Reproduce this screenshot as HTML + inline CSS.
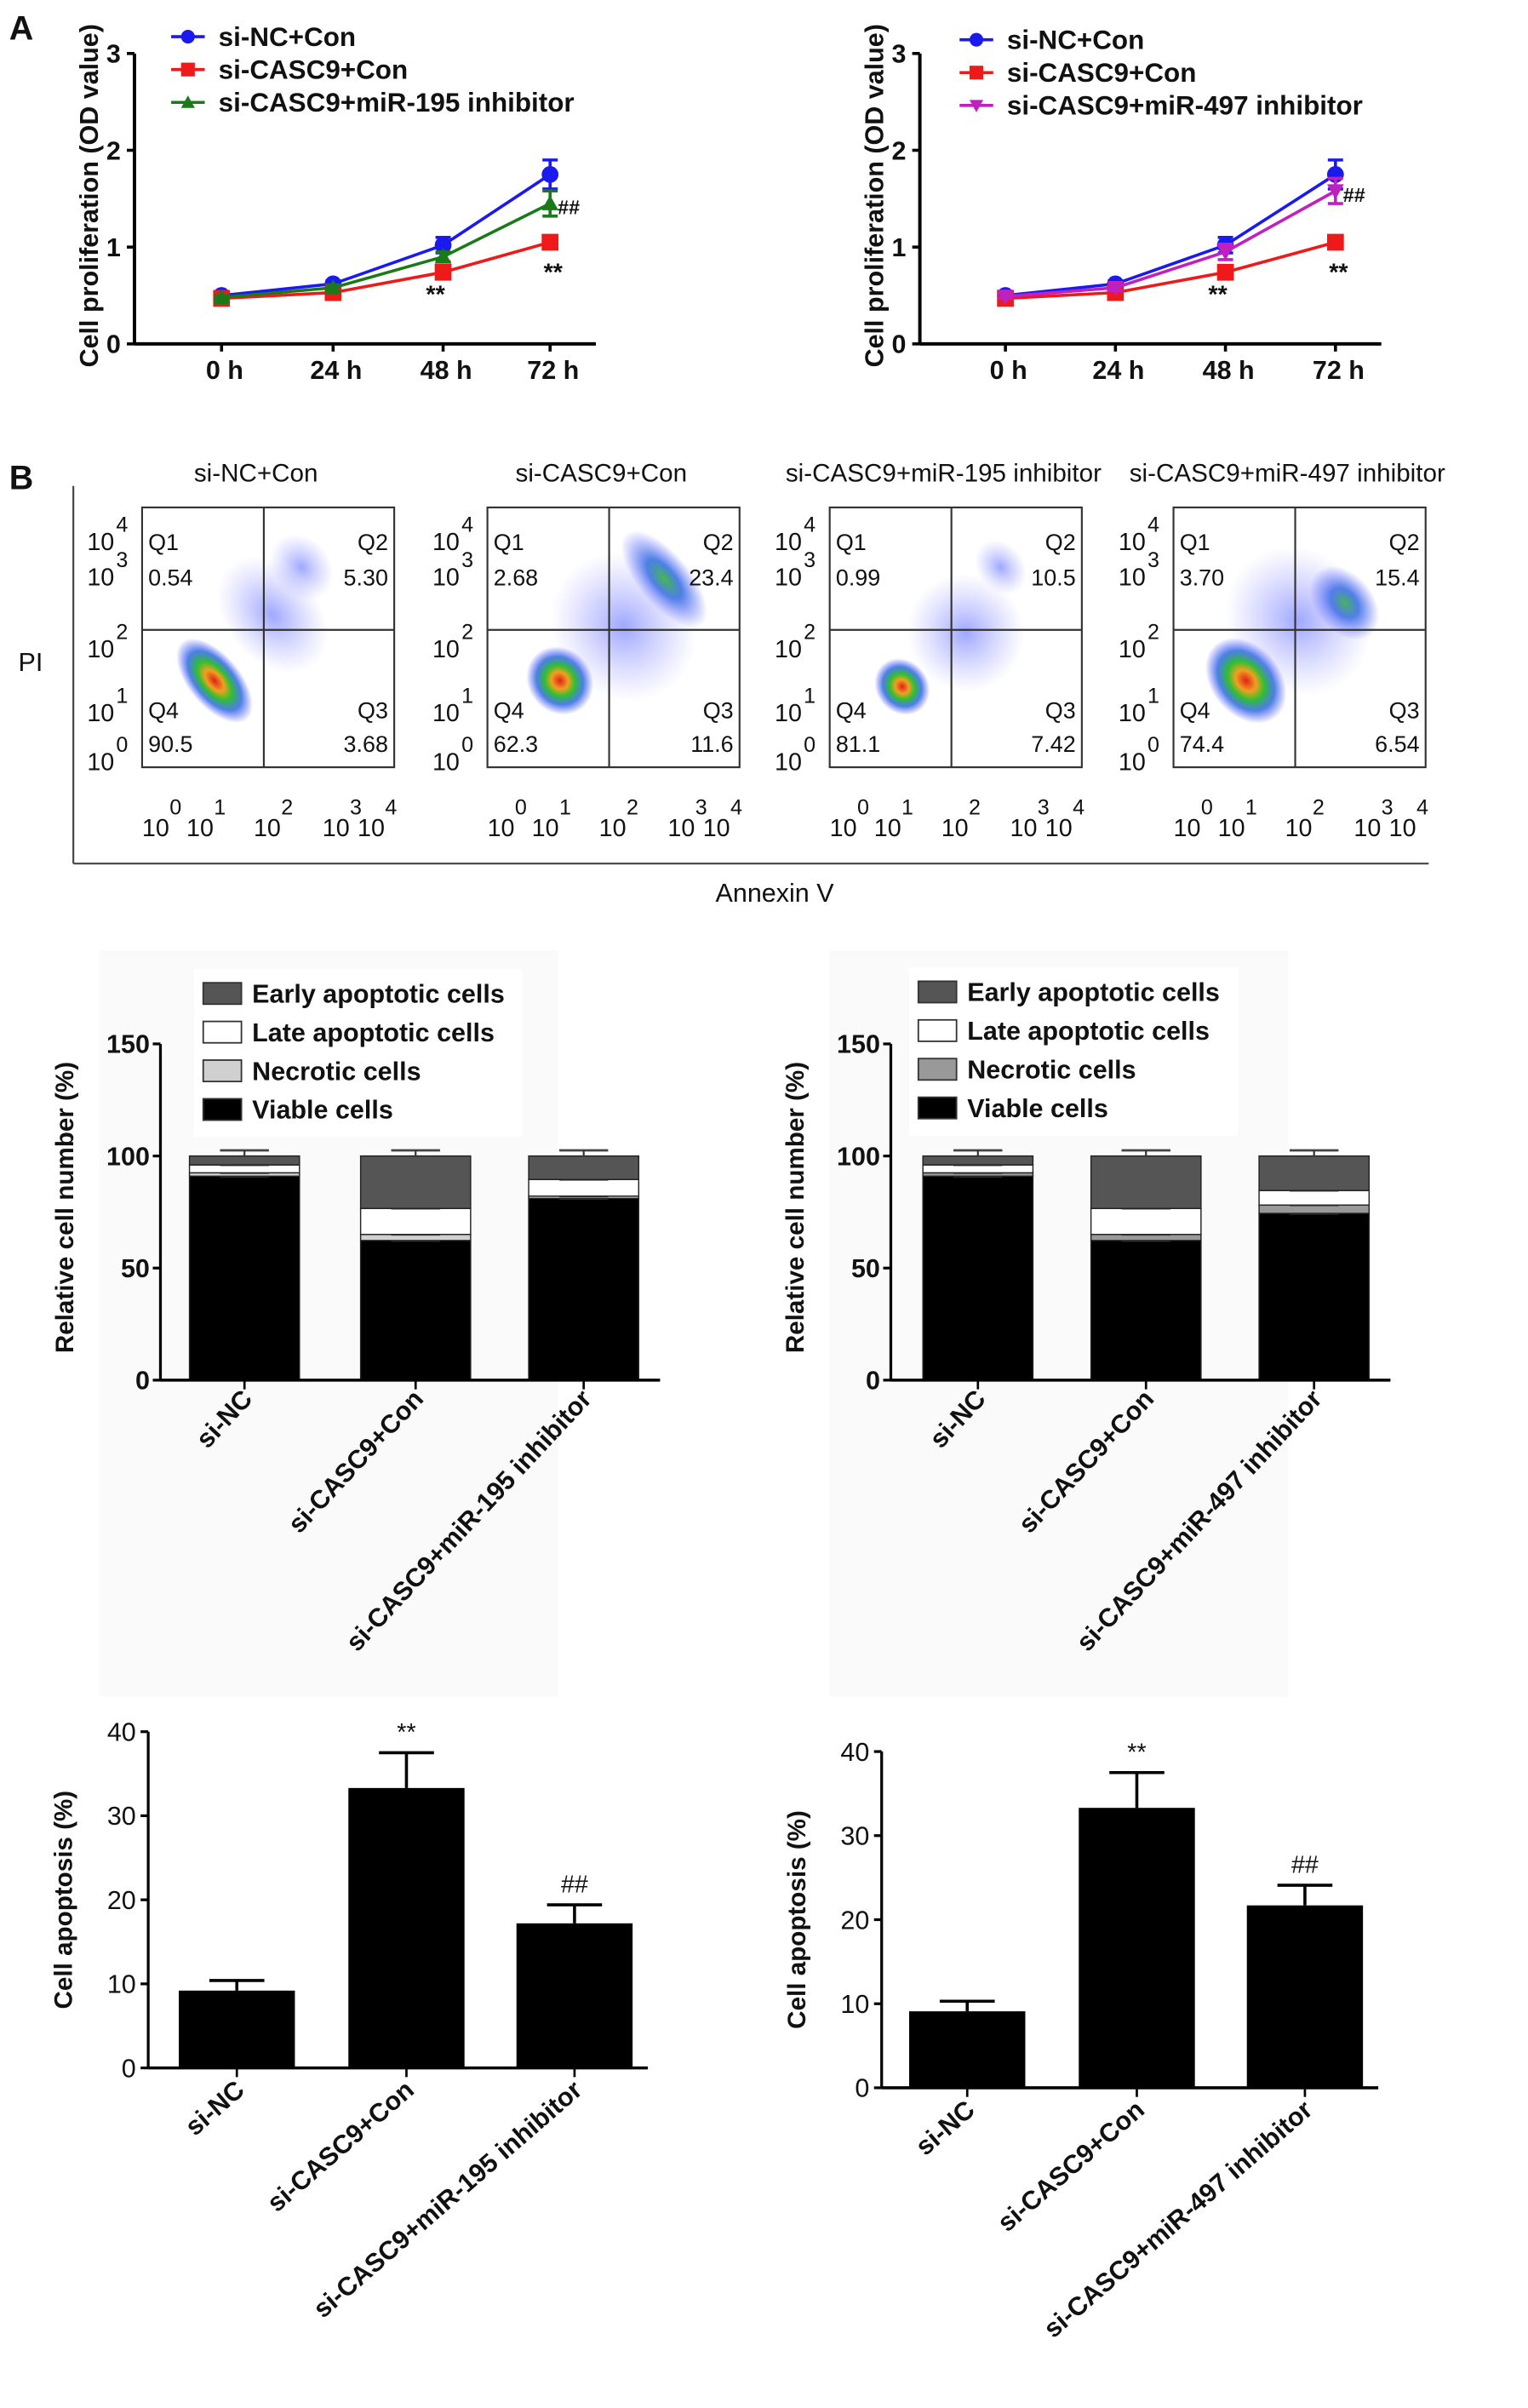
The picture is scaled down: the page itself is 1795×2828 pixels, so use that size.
<!DOCTYPE html>
<html><head><meta charset="utf-8"><style>
html,body{margin:0;padding:0;background:#fff}
svg{display:block;font-family:"Liberation Sans",Arial,sans-serif}
</style></head><body>
<svg id="fig" width="1795" height="2828" viewBox="0 0 1000 1575.5" preserveAspectRatio="none" xmlns="http://www.w3.org/2000/svg">
<defs>
<radialGradient id="dens"><stop offset="0" stop-color="#e0201a"/><stop offset="0.25" stop-color="#f0a020"/><stop offset="0.45" stop-color="#30c030"/><stop offset="0.7" stop-color="#2060e0" stop-opacity="0.8"/><stop offset="1" stop-color="#4040ff" stop-opacity="0"/></radialGradient>
<radialGradient id="densB"><stop offset="0" stop-color="#40c040"/><stop offset="0.4" stop-color="#2060e0" stop-opacity="0.8"/><stop offset="1" stop-color="#5050ff" stop-opacity="0"/></radialGradient>
<radialGradient id="densC"><stop offset="0" stop-color="#5060ff" stop-opacity="0.55"/><stop offset="1" stop-color="#8080ff" stop-opacity="0"/></radialGradient>
</defs>
</svg>
<script>
// ---------- Data ----------
const timeLabels = ["0 h","24 h","48 h","72 h"];
const odNC = [0.50, 0.62, 1.02, 1.75];
const odNCErr = [0.03, 0.03, 0.08, 0.15];
const odCASC9 = [0.47, 0.53, 0.74, 1.05];
const odCASC9Err = [0.02, 0.03, 0.04, 0.06];
const odMiR195 = [0.48, 0.58, 0.90, 1.45];
const odMiR195Err = [0.02, 0.03, 0.05, 0.13];
const odMiR497 = [0.49, 0.58, 0.95, 1.58];
const odMiR497Err = [0.02, 0.03, 0.08, 0.13];
const odTicks = [0,1,2,3];

const flowTitles = ["si-NC+Con","si-CASC9+Con","si-CASC9+miR-195 inhibitor","si-CASC9+miR-497 inhibitor"];
const flowQ1 = ["0.54","2.68","0.99","3.70"];
const flowQ2 = ["5.30","23.4","10.5","15.4"];
const flowQ3 = ["3.68","11.6","7.42","6.54"];
const flowQ4 = ["90.5","62.3","81.1","74.4"];
// density clusters per plot: [logX, logY, spreadX, spreadY, kind]
const flowClusters = [
 [[0.9,1.1,0.45,0.85,0],[1.9,2.2,0.8,1.1,2],[2.4,3.0,0.5,0.6,2]],
 [[0.9,1.1,0.55,0.6,0],[2.7,2.8,0.45,1.0,1],[2.0,2.0,1.2,1.3,2]],
 [[0.9,1.0,0.45,0.5,0],[2.0,1.9,1.0,1.0,2],[2.6,3.0,0.4,0.5,2]],
 [[0.9,1.1,0.6,0.8,0],[2.6,2.4,0.5,0.7,1],[1.8,2.1,1.2,1.3,2]]
];

const stackCats1 = ["si-NC","si-CASC9+Con","si-CASC9+miR-195 inhibitor"];
const stackCats2 = ["si-NC","si-CASC9+Con","si-CASC9+miR-497 inhibitor"];
const viable1 = [91, 62.3, 81.1];
const necrotic1 = [1.5, 2.7, 1.0];
const late1 = [3.5, 11.6, 7.4];
const early1 = [4.0, 23.4, 10.5];
const viable2 = [91, 62.3, 74.4];
const necrotic2 = [1.5, 2.7, 3.7];
const late2 = [3.5, 11.6, 6.5];
const early2 = [4.0, 23.4, 15.4];
const stackTicks = [0,50,100,150];

const apop1 = [9.2, 33.3, 17.2];
const apop1Err = [1.2, 4.2, 2.2];
const apop2 = [9.1, 33.3, 21.7];
const apop2Err = [1.2, 4.2, 2.4];
const apopTicks = [0,10,20,30,40];
const apopMarks = ["","**","##"];

// ---------- Helpers ----------
const svg = document.getElementById('fig');
const NS = "http://www.w3.org/2000/svg";
function el(tag, attrs, parent, text){
  const e = document.createElementNS(NS, tag);
  for (const k in attrs) e.setAttribute(k, attrs[k]);
  if (text !== undefined) e.textContent = text;
  (parent||svg).appendChild(e);
  return e;
}
function grp(name){
  const g = el('g', {});
  
  
  return g;
}
function txt(g, x, y, s, size, opts){
  const o = Object.assign({x:x, y:y, 'font-size':size, fill:'#111'}, opts||{});
  return el('text', o, g, s);
}

let gl = grp('panel-label-a'); txt(gl, 6, 26, 'A', 22, {'font-weight':'bold'});
gl = grp('panel-label-b'); txt(gl, 6, 320, 'B', 22, {'font-weight':'bold'});

// ---------- Line charts ----------
function marker(g, type, x, y, c, r){
  if (type==='circle') el('circle',{cx:x,cy:y,r:r,fill:c},g);
  else if (type==='square') el('rect',{x:x-r,y:y-r,width:2*r,height:2*r,fill:c},g);
  else if (type==='tri') el('polygon',{points:`${x},${y-r} ${x+r},${y+r*0.8} ${x-r},${y+r*0.8}`,fill:c},g);
  else el('polygon',{points:`${x},${y+r} ${x+r},${y-r*0.8} ${x-r},${y-r*0.8}`,fill:c},g);
}
function lineChart(name, ax, xs, series, legendX, legendY){
  const g = grp(name);
  const y0 = 225, yTop = 35, xEnd = ax + 302;
  const yS = v => y0 - (v/3)*(y0-yTop);
  const xS = i => xs[i];
  el('line',{x1:ax,y1:yTop,x2:ax,y2:y0,stroke:'#000','stroke-width':2.2},g);
  el('line',{x1:ax,y1:y0,x2:xEnd,y2:y0,stroke:'#000','stroke-width':2.2},g);
  odTicks.forEach(t=>{
    el('line',{x1:ax-5,y1:yS(t),x2:ax,y2:yS(t),stroke:'#000','stroke-width':2},g);
    txt(g, ax-9, yS(t)+6, String(t), 17, {'text-anchor':'end','font-weight':'bold'});
  });
  timeLabels.forEach((l,i)=>{
    el('line',{x1:xS(i),y1:y0,x2:xS(i),y2:y0+5,stroke:'#000','stroke-width':2},g);
    txt(g, xS(i)+2, 248, l, 17, {'text-anchor':'middle','font-weight':'bold'});
  });
  const yl = txt(g, 0, 0, 'Cell proliferation (OD value)', 17, {'font-weight':'bold','text-anchor':'middle',transform:`translate(${ax-24},128) rotate(-90)`});
  
  series.forEach((s,si)=>{
    const sg = el('g',{},g);
    
    
    const pts = s.vals.map((v,i)=>xS(i)+','+yS(v)).join(' ');
    el('polyline',{points:pts,fill:'none',stroke:s.color,'stroke-width':2},sg);
    s.vals.forEach((v,i)=>{
      const e = s.err[i];
      el('line',{x1:xS(i),y1:yS(v+e),x2:xS(i),y2:yS(v-e),stroke:s.color,'stroke-width':2},sg);
      el('line',{x1:xS(i)-5,y1:yS(v+e),x2:xS(i)+5,y2:yS(v+e),stroke:s.color,'stroke-width':2},sg);
      el('line',{x1:xS(i)-5,y1:yS(v-e),x2:xS(i)+5,y2:yS(v-e),stroke:s.color,'stroke-width':2},sg);
      marker(sg, s.marker, xS(i), yS(v), s.color, 5.5);
    });
    const ly = legendY + si*21.5;
    el('line',{x1:legendX,y1:ly,x2:legendX+22,y2:ly,stroke:s.color,'stroke-width':2},g);
    marker(g, s.marker, legendX+11, ly, s.color, 4.5);
    txt(g, legendX+31, ly+6, s.label, 17.5, {'font-weight':'bold'});
  });
  txt(g, xS(2)-5, yS(odCASC9[2])+20, '**', 16, {'text-anchor':'middle','font-weight':'bold'});
  txt(g, xS(3)+2, yS(odCASC9[3])+25, '**', 16, {'text-anchor':'middle','font-weight':'bold'});
  txt(g, xS(3)+5, yS(series[2].vals[3])+7, '##', 13, {'font-weight':'bold'});
}
lineChart('line-chart-mir195', 88, [145,218,290,360], [
  {key:'si-nc-con',label:'si-NC+Con',vals:odNC,err:odNCErr,color:'#1a1aee',marker:'circle'},
  {key:'si-casc9-con',label:'si-CASC9+Con',vals:odCASC9,err:odCASC9Err,color:'#ee1a1a',marker:'square'},
  {key:'si-casc9-mir195',label:'si-CASC9+miR-195 inhibitor',vals:odMiR195,err:odMiR195Err,color:'#1a7a1a',marker:'tri'}
], 112, 24);
lineChart('line-chart-mir497', 602, [658,730,802,874], [
  {key:'si-nc-con',label:'si-NC+Con',vals:odNC,err:odNCErr,color:'#1a1aee',marker:'circle'},
  {key:'si-casc9-con',label:'si-CASC9+Con',vals:odCASC9,err:odCASC9Err,color:'#ee1a1a',marker:'square'},
  {key:'si-casc9-mir497',label:'si-CASC9+miR-497 inhibitor',vals:odMiR497,err:odMiR497Err,color:'#c020c0',marker:'tridown'}
], 628, 26);

// ---------- Flow cytometry ----------
const fg = grp('flow-cytometry-panel');
el('line',{x1:48,y1:318,x2:48,y2:565,stroke:'#444','stroke-width':1.2},fg);
el('line',{x1:48,y1:565,x2:935,y2:565,stroke:'#444','stroke-width':1.2},fg);
let t = txt(fg, 507, 590, 'Annexin V', 17, {'text-anchor':'middle'}); 
t = txt(fg, 12, 439, 'PI', 17, {}); 
const flowBoxX = [93, 319, 543, 768];
flowTitles.forEach((title,i)=>{
  const g = grp('flow-plot-'+(i+1));
  const x0 = flowBoxX[i], w = 165, yT = 332, yB = 502;
  const lx = v => x0 + (v+0.35)/4.35*w;
  const ly = v => yB - (v+0.35)/4.35*(yB-yT);
  txt(g, x0+w/2-8, 315, title, 16.5, {'text-anchor':'middle'});
  const cl = el('g',{},g);
  cl.setAttribute('clip-path','url(#clip'+i+')');
  const cp = el('clipPath',{id:'clip'+i},svg.querySelector('defs'));
  el('rect',{x:x0,y:yT,width:w,height:yB-yT},cp);
  flowClusters[i].forEach(c=>{
    const fill = c[4]===0?'url(#dens)':(c[4]===1?'url(#densB)':'url(#densC)');
    el('ellipse',{cx:lx(c[0]),cy:ly(c[1]),rx:c[2]/4.35*w,ry:c[3]/4.35*(yB-yT),fill:fill,transform:`rotate(-40 ${lx(c[0])} ${ly(c[1])})`},cl);
  });
  el('rect',{x:x0,y:yT,width:w,height:yB-yT,fill:'none',stroke:'#333','stroke-width':1.2},g);
  const qx = lx(1.75), qy = ly(1.95);
  el('line',{x1:qx,y1:yT,x2:qx,y2:yB,stroke:'#333','stroke-width':1.2},g);
  el('line',{x1:x0,y1:qy,x2:x0+w,y2:qy,stroke:'#333','stroke-width':1.2},g);
  txt(g, x0+4, 360, 'Q1', 15); txt(g, x0+4, 383, flowQ1[i], 15);
  txt(g, x0+w-4, 360, 'Q2', 15, {'text-anchor':'end'}); txt(g, x0+w-4, 383, flowQ2[i], 15, {'text-anchor':'end'});
  txt(g, x0+4, 470, 'Q4', 15); txt(g, x0+4, 492, flowQ4[i], 15);
  txt(g, x0+w-4, 470, 'Q3', 15, {'text-anchor':'end'}); txt(g, x0+w-4, 492, flowQ3[i], 15, {'text-anchor':'end'});
  const yExp = [[4,360],[3,383],[2,430],[1,472],[0,504]];
  yExp.forEach(e=>{ txt(g, x0-36, e[1], '10', 16); txt(g, x0-17, e[1]-12, String(e[0]), 14); });
  const xExp = [[0,x0+2],[1,x0+31],[2,x0+75],[3,x0+120],[4,x0+143]];
  xExp.forEach(e=>{ txt(g, e[1]-2, 547, '10', 16); txt(g, e[1]+16, 533, String(e[0]), 14); });
});

// ---------- Stacked bars ----------
function stackChart(name, ax, centers, cats, layers, necroColor, legX, legY){
  const g = grp(name);
  el('rect',{x:ax-40,y:622,width:300,height:488,fill:'#fafafa'},g);
  const y0 = 903, yTop = 683;
  const yS = v => y0 - v/150*(y0-yTop);
  el('rect',{x:legX-6,y:legY-16,width:215,height:110,fill:'#fff'},g);
  const colors = ['#000', necroColor, '#fff', '#555'];
  const names = ['viable','necrotic','late','early'];
  cats.forEach((c,i)=>{
    let base = 0;
    layers.forEach((arr,li)=>{
      const v = arr[i];
      const r = el('rect',{x:centers[i]-36,y:yS(base+v),width:72,height:yS(base)-yS(base+v),fill:colors[li],stroke:'#222','stroke-width':0.8},g);
      
      base += v;
      el('line',{x1:centers[i]-16,y1:yS(base+(li===3?2.5:0)),x2:centers[i]+16,y2:yS(base+(li===3?2.5:0)),stroke:'#444','stroke-width':1.5},g);
      if(li===3) el('line',{x1:centers[i],y1:yS(base),x2:centers[i],y2:yS(base+2.5),stroke:'#333','stroke-width':1.2},g);
    });
    txt(g, 0, 0, c, 17, {'font-weight':'bold','text-anchor':'end',transform:`translate(${centers[i]+6},${916}) rotate(-47)`});
  });
  el('line',{x1:ax,y1:yTop,x2:ax,y2:y0,stroke:'#000','stroke-width':1.8},g);
  el('line',{x1:ax,y1:y0,x2:centers[2]+50,y2:y0,stroke:'#000','stroke-width':2},g);
  stackTicks.forEach(tk=>{
    el('line',{x1:ax-5,y1:yS(tk),x2:ax,y2:yS(tk),stroke:'#000','stroke-width':1.8},g);
    txt(g, ax-7, yS(tk)+6, String(tk), 17, {'text-anchor':'end','font-weight':'bold'});
  });
  centers.forEach(c=>el('line',{x1:c,y1:y0,x2:c,y2:y0+6,stroke:'#000','stroke-width':1.5},g));
  txt(g, 0, 0, 'Relative cell number (%)', 16.5, {'font-weight':'bold','text-anchor':'middle',transform:`translate(${ax-57},790) rotate(-90)`});
  const legNames = ['Early apoptotic cells','Late apoptotic cells','Necrotic cells','Viable cells'];
  const legCols = ['#555','#fff',necroColor,'#000'];
  legNames.forEach((n,k)=>{
    const yy = legY + k*25.3;
    el('rect',{x:legX,y:yy-7,width:25,height:14,fill:legCols[k],stroke:'#333','stroke-width':1},g);
    txt(g, legX+32, yy+6, n, 17, {'font-weight':'bold'});
  });
}
stackChart('stacked-bar-mir195', 105, [160,272,382], stackCats1, [viable1,necrotic1,late1,early1], '#d0d0d0', 133, 650);
stackChart('stacked-bar-mir497', 583, [640,750,860], stackCats2, [viable2,necrotic2,late2,early2], '#999', 601, 649);

// ---------- Apoptosis bars ----------
function apopChart(name, ax, y0, centers, cats, vals, errs){
  const g = grp(name);
  const yTop = y0 - 220;
  const yS = v => y0 - v/40*220;
  vals.forEach((v,i)=>{
    const r = el('rect',{x:centers[i]-38,y:yS(v),width:76,height:y0-yS(v),fill:'#000'},g);
    
    const e = errs[i];
    el('line',{x1:centers[i],y1:yS(v),x2:centers[i],y2:yS(v+e),stroke:'#000','stroke-width':2},g);
    el('line',{x1:centers[i]-18,y1:yS(v+e),x2:centers[i]+18,y2:yS(v+e),stroke:'#000','stroke-width':2},g);
    if (apopMarks[i]) txt(g, centers[i], yS(v+e)-8, apopMarks[i], 16, {'text-anchor':'middle'});
    txt(g, 0, 0, cats[i], 17, {'font-weight':'bold','text-anchor':'end',transform:`translate(${centers[i]+6},${y0+16}) rotate(-41)`});
    el('line',{x1:centers[i],y1:y0,x2:centers[i],y2:y0+6,stroke:'#000','stroke-width':1.5},g);
  });
  el('line',{x1:ax,y1:yTop,x2:ax,y2:y0,stroke:'#000','stroke-width':1.8},g);
  el('line',{x1:ax,y1:y0,x2:centers[2]+48,y2:y0,stroke:'#000','stroke-width':2},g);
  apopTicks.forEach(tk=>{
    el('line',{x1:ax-5,y1:yS(tk),x2:ax,y2:yS(tk),stroke:'#000','stroke-width':1.8},g);
    txt(g, ax-8, yS(tk)+6, String(tk), 17, {'text-anchor':'end'});
  });
  txt(g, 0, 0, 'Cell apoptosis (%)', 16.5, {'font-weight':'bold','text-anchor':'middle',transform:`translate(${ax-50},${y0-110}) rotate(-90)`});
}
apopChart('apoptosis-bar-mir195', 97, 1353, [155,266,376], stackCats1, apop1, apop1Err);
apopChart('apoptosis-bar-mir497', 577, 1366, [633,744,854], stackCats2, apop2, apop2Err);
</script>
</body></html>
